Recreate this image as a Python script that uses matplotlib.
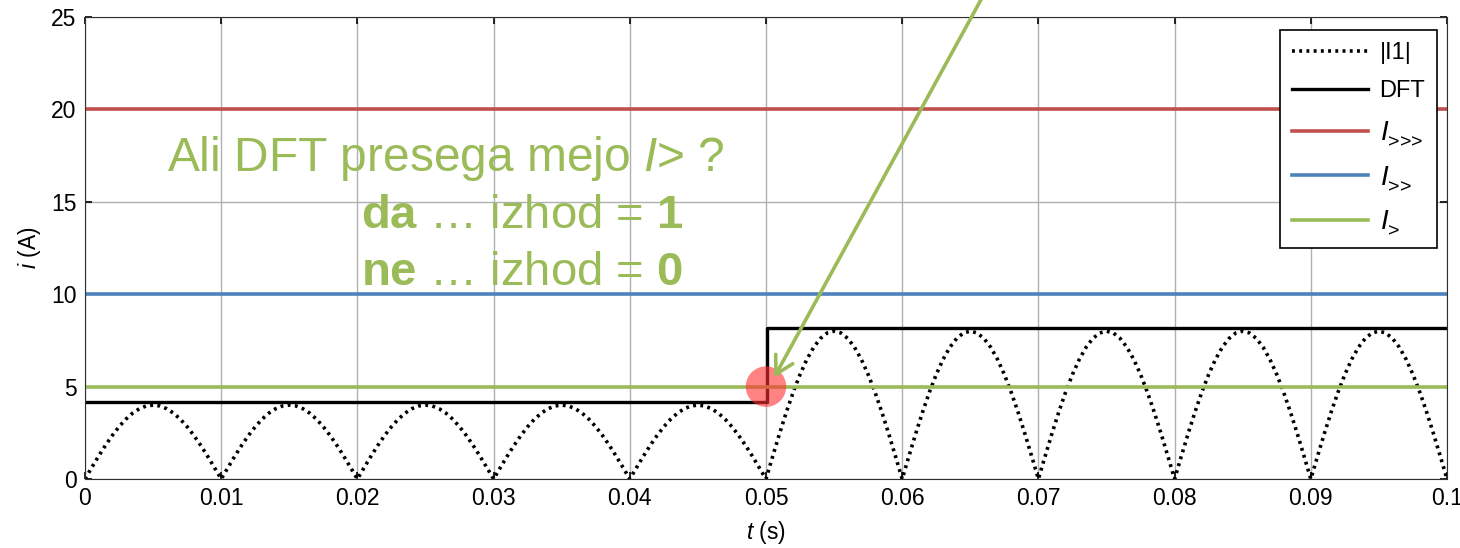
import matplotlib.pyplot as plt
import numpy as np

plt.rcParams['font.family'] = ['Liberation Sans', 'DejaVu Sans']
plt.rcParams['mathtext.fontset'] = 'custom'
plt.rcParams['mathtext.rm'] = 'Liberation Sans'
plt.rcParams['mathtext.it'] = 'Liberation Sans:italic'
plt.rcParams['mathtext.bf'] = 'Liberation Sans:bold'

# --- podatki odčitani s slike ---
# oblika ene polperiode |I1| (relativno, od 0 do 1) in čas znotraj polperiode [s]
hump_t = [0.0, 0.0005, 0.001, 0.0015, 0.002, 0.0025, 0.003, 0.0035, 0.004, 0.0045, 0.005,
          0.0055, 0.006, 0.0065, 0.007, 0.0075, 0.008, 0.0085, 0.009, 0.0095, 0.01]
hump_shape = [0.0, 0.156, 0.309, 0.454, 0.588, 0.707, 0.809, 0.891, 0.951, 0.988, 1.0,
              0.988, 0.951, 0.891, 0.809, 0.707, 0.588, 0.454, 0.309, 0.156, 0.0]
hump_start = [0.0, 0.01, 0.02, 0.03, 0.04, 0.05, 0.06, 0.07, 0.08, 0.09]
hump_amp = [4, 4, 4, 4, 4, 8, 8, 8, 8, 8]

dft_t = [0.0, 0.0501, 0.0501, 0.1]
dft_i = [4.15, 4.15, 8.15, 8.15]

# superskript s presledkom samo potisne indeks nižje (kot v izvirniku)
thresholds = {r'$\mathit{I}_{\text{>>>}}^{\,}$': (20, '#C0504D'),
              r'$\mathit{I}_{\text{>>}}^{\,}$': (10, '#4F81BD'),
              r'$\mathit{I}_{\text{>}}^{\,}$': (5, '#9BBB59')}

t_i1 = []
i1 = []
for t0, a in zip(hump_start, hump_amp):
    t_i1 += [t0 + x for x in hump_t]
    i1 += [a * s for s in hump_shape]

fig = plt.figure(figsize=(14.6, 5.48), dpi=100)
ax = fig.add_axes([0.0582, 0.1259, 0.9329, 0.8431])

ax.plot(t_i1, i1, color='black', linestyle=(0, (0.8, 1.2)), linewidth=2.6, label='|I1|')
ax.plot(dft_t, dft_i, color='black', linewidth=2.4, label='DFT')
for lab, (val, col) in thresholds.items():
    ax.plot([0, 0.1], [val, val], color=col, linewidth=2.6, label=lab)

ax.set_xlim(0, 0.1)
ax.set_ylim(0, 25)
ax.set_xticks(np.arange(0, 0.1001, 0.01))
ax.set_xticklabels(['0', '0.01', '0.02', '0.03', '0.04', '0.05', '0.06', '0.07', '0.08', '0.09', '0.1'])
ax.set_yticks([0, 5, 10, 15, 20, 25])
ax.tick_params(direction='in', length=5, width=1.2, top=True, right=True, labelsize=16.5, pad=6)
ax.grid(True, color='#b0b0b0', linewidth=1)
for s in ax.spines.values():
    s.set_color('#303030')
ax.set_xlabel(r'$\mathit{t}$ (s)', fontsize=16.5, labelpad=6)
ax.set_ylabel(r'$\mathit{i}$ (A)', fontsize=16.5, labelpad=6)

leg = ax.legend(loc='upper right', bbox_to_anchor=(0.9927, 0.9719), borderaxespad=0,
                fontsize=17, frameon=True, fancybox=False, edgecolor='black', framealpha=1,
                handlelength=3.2, labelspacing=0.7, borderpad=0.5, handletextpad=0.5)
leg.get_frame().set_linewidth(1.2)
for txt in leg.get_texts()[2:]:
    txt.set_fontsize(20)

green = '#9BBB59'
ax.text(0.0060, 16.67, r'Ali DFT presega mejo $\mathit{I}$> ?', color=green, fontsize=34.5,
        va='baseline')
ax.text(0.0203, 13.59, r'$\mathbf{da}$ … izhod = $\mathbf{1}$', color=green, fontsize=34,
        va='baseline')
ax.text(0.0203, 10.50, r'$\mathbf{ne}$ … izhod = $\mathbf{0}$', color=green, fontsize=34,
        va='baseline')

ax.scatter([0.05], [5], s=850, color='#ff3030', alpha=0.6, edgecolors='none', zorder=5)
ax.annotate('', xy=(0.0505, 5.36), xytext=(0.0665, 26.9),
            arrowprops=dict(arrowstyle='->,head_length=1.25,head_width=0.7', color=green,
                            lw=2.6, mutation_scale=10),
            annotation_clip=False, zorder=6)

fig.savefig('out.png', dpi=100)
